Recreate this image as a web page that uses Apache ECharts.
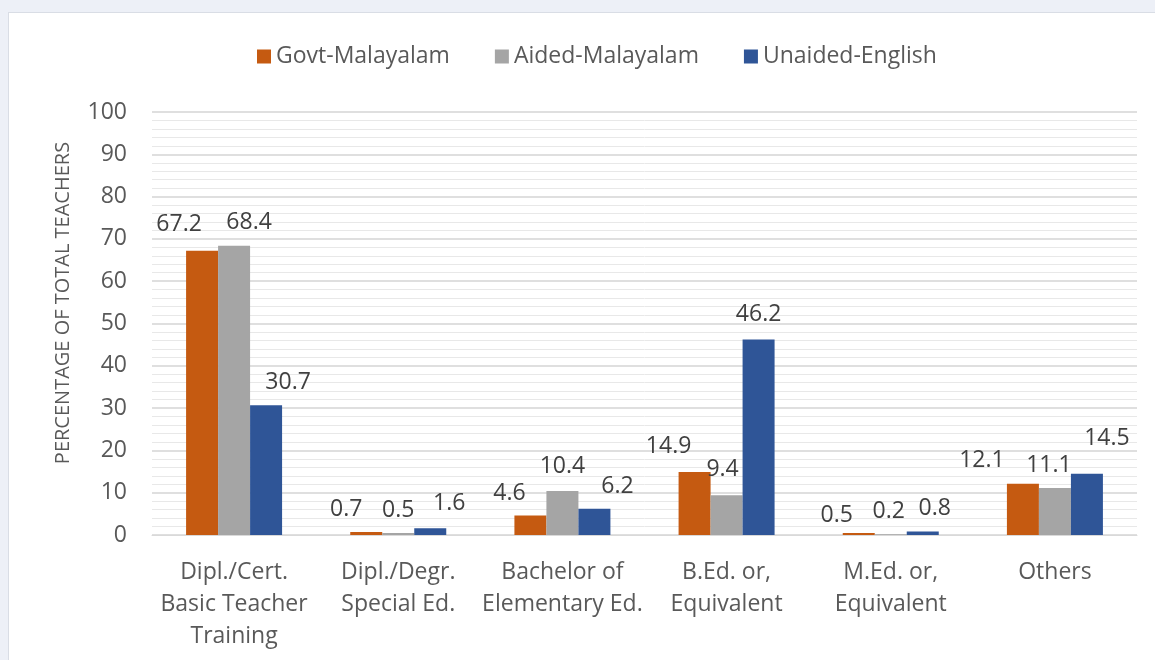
<!DOCTYPE html>
<html>
<head>
<meta charset="utf-8">
<script src="https://cdn.jsdelivr.net/npm/echarts@6/dist/echarts.min.js"></script>
<style>
  html, body { margin: 0; padding: 0; background: #edf0f7; }
  #panel { position: absolute; left: 8px; top: 12px; width: 1150px; height: 660px; background: #fff; border: 1px solid #d9dde5; }
  #chart { position: absolute; left: 0; top: 0; width: 1155px; height: 660px; }
</style>
</head>
<body>
<div id="panel"></div>
<div id="chart"></div>
<script>
// 数据
const categories = [
  'Dipl./Cert.\nBasic Teacher\nTraining',
  'Dipl./Degr.\nSpecial Ed.',
  'Bachelor of\nElementary Ed.',
  'B.Ed. or,\nEquivalent',
  'M.Ed. or,\nEquivalent',
  'Others'
]
const govtMalayalam = [67.2, 0.7, 4.6, 14.9, 0.5, 12.1]
const aidedMalayalam = [68.4, 0.5, 10.4, 9.4, 0.2, 11.1]
const unaidedEnglish = [30.7, 1.6, 6.2, 46.2, 0.8, 14.5]

// 标签位置（原图中手动挪过）
const govtOffsets = [[-23, -10], [-20, -6], [-21, -6], [-26, -9], [-22, -1], [-41, -7]]
const aidedOffsets = [[15, -7], [0, -6], [0, -8], [-4, -9], [-2, -6], [-6, -6]]
const unaidedOffsets = [[22, -6], [19, -8], [23, -6], [0, -9], [12, -7], [20, -19]]

const FONT = '"Open Sans", "Liberation Sans", sans-serif'
const FS = 23

function withLabels(values, offsets) {
  return values.map((v, i) => ({ value: v, label: { offset: offsets[i] } }))
}

function barSeries(name, color, values, offsets) {
  return {
    name,
    type: 'bar',
    barWidth: 32,
    barGap: '0%',
    itemStyle: { color },
    label: {
      show: true,
      position: 'top',
      distance: 5,
      fontFamily: FONT,
      fontSize: FS,
      color: '#404040'
    },
    data: withLabels(values, offsets)
  }
}

const chart = echarts.init(document.getElementById('chart'))
chart.setOption({
  backgroundColor: 'transparent',
  animation: false,
  textStyle: { fontFamily: FONT },
  legend: {
    top: 40,
    left: 252,
    itemWidth: 14,
    itemHeight: 14,
    itemGap: 45,
    icon: 'rect',
    textStyle: { fontSize: FS, color: '#595959', fontFamily: FONT },
    data: ['Govt-Malayalam', 'Aided-Malayalam', 'Unaided-English']
  },
  graphic: [{
    type: 'text',
    x: 63,
    y: 303,
    rotation: Math.PI / 2,
    style: {
      text: 'PERCENTAGE OF TOTAL TEACHERS',
      fontSize: 20,
      fontFamily: FONT,
      fill: '#595959',
      align: 'center',
      verticalAlign: 'middle'
    }
  }],
  grid: { left: 152, right: 18, top: 112, bottom: 125 },
  xAxis: {
    type: 'category',
    data: categories,
    axisLine: { lineStyle: { color: '#d9d9d9', width: 1 } },
    axisTick: { show: false },
    axisLabel: {
      fontSize: FS,
      lineHeight: 32,
      margin: 21,
      color: '#595959',
      fontFamily: FONT,
      interval: 0
    }
  },
  yAxis: {
    type: 'value',
    min: 0,
    max: 100,
    interval: 10,
    axisLine: { show: false },
    axisTick: { show: false },
    axisLabel: { fontSize: FS, color: '#595959', margin: 25, fontFamily: FONT },
    splitLine: { lineStyle: { color: '#d4d4d4', width: 1.5 } },
    minorTick: { show: false, splitNumber: 5 },
    minorSplitLine: { show: true, lineStyle: { color: '#e8e8e8', width: 1 } }
  },
  series: [
    barSeries('Govt-Malayalam', '#c55a11', govtMalayalam, govtOffsets),
    barSeries('Aided-Malayalam', '#a5a5a5', aidedMalayalam, aidedOffsets),
    barSeries('Unaided-English', '#2f5597', unaidedEnglish, unaidedOffsets)
  ]
})
</script>
</body>
</html>
